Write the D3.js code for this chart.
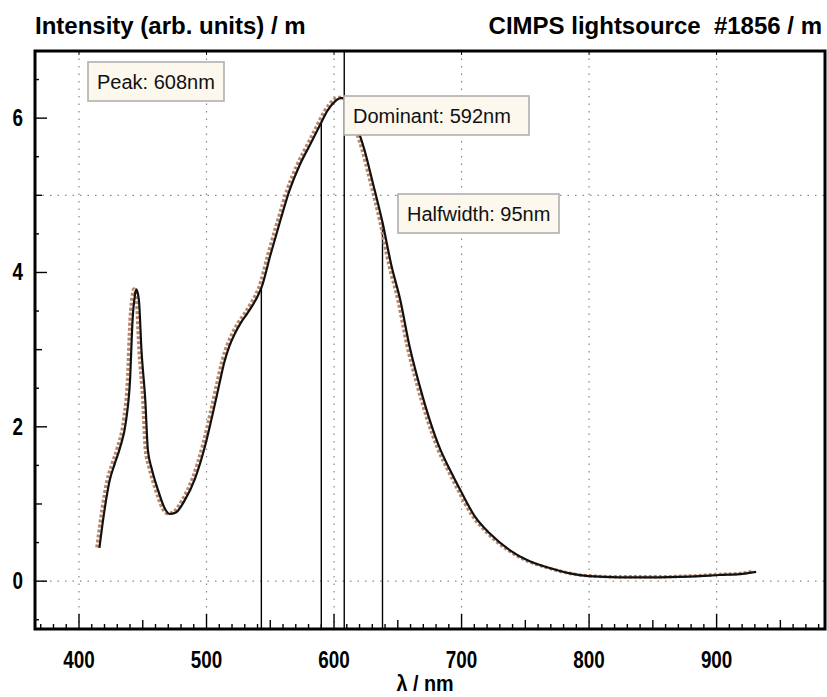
<!DOCTYPE html>
<html>
<head>
<meta charset="utf-8">
<script src="https://cdn.jsdelivr.net/npm/d3@7"></script>
<style>
  body { margin: 0; background: #fff; }
  text { font-family: "Liberation Sans", Arial, sans-serif; }
</style>
</head>
<body>
<svg id="chart"></svg>
<script>
// spectrum
const wavelength = [416, 420, 424, 428, 432, 437, 440, 442, 444, 445, 447, 449, 452, 454, 457, 462, 467, 471, 476, 483,
  491, 499, 505, 510, 514, 518, 522, 527, 532, 537, 540, 543, 550, 558, 565, 573, 581, 589, 595, 601,
  605, 608, 612, 619, 624, 630, 638, 645, 652, 659, 667, 675, 683, 691, 699, 710, 722, 738, 753, 769,
  785, 800, 824, 855, 887, 902, 918, 931];
const intensity = [0.43, 0.92, 1.3, 1.52, 1.72, 2.09, 2.6, 3.38, 3.72, 3.78, 3.64, 2.99, 2.34, 1.7, 1.46, 1.18, 0.95, 0.87, 0.89, 1.05,
  1.33, 1.76, 2.18, 2.55, 2.84, 3.05, 3.2, 3.35, 3.47, 3.6, 3.69, 3.8, 4.22, 4.68, 5.06, 5.39, 5.65, 5.91, 6.1, 6.22,
  6.26, 6.26, 6.19, 5.84, 5.58, 5.19, 4.65, 4.09, 3.64, 3.06, 2.54, 2.09, 1.72, 1.44, 1.18, 0.85, 0.62, 0.4, 0.26, 0.17,
  0.1, 0.065, 0.05, 0.05, 0.065, 0.08, 0.09, 0.12];

const xTickValues = [400, 500, 600, 700, 800, 900];
const yTickValues = [0, 2, 4, 6];
const peakNm = 608;
const halfwidthNm = [543, 638];
const dominantLineNm = 590;
const boxLabels = ["Peak: 608nm", "Dominant: 592nm", "Halfwidth: 95nm"];

const width = 827;
const height = 697;
const plot = { left: 35, top: 51, right: 825, bottom: 629 };

const svg = d3.select("#chart")
    .attr("width", width)
    .attr("height", height);

const xScale = d3.scaleLinear().domain([365.5, 985]).range([plot.left, plot.right]);
const yScale = d3.scaleLinear().domain([-0.62, 6.87]).range([plot.bottom, plot.top]);

const data = wavelength.map((w, i) => ({ w: w, v: intensity[i] }));

// grid, dotted
svg.append("g")
    .selectAll("line")
    .data(xTickValues)
    .join("line")
    .attr("x1", d => xScale(d)).attr("x2", d => xScale(d))
    .attr("y1", plot.top).attr("y2", plot.bottom)
    .attr("stroke", "#888")
    .attr("stroke-width", 1.2)
    .attr("stroke-dasharray", "1.5,6");

svg.append("g")
    .selectAll("line")
    .data([0, 5])
    .join("line")
    .attr("x1", plot.left).attr("x2", plot.right)
    .attr("y1", d => yScale(d)).attr("y2", d => yScale(d))
    .attr("stroke", "#888")
    .attr("stroke-width", 1.2)
    .attr("stroke-dasharray", "1.5,6");

// x ticks along the bottom, pointing up
const xMinor = d3.range(370, 990, 10);
svg.append("g")
    .selectAll("line")
    .data(xMinor)
    .join("line")
    .attr("x1", d => xScale(d)).attr("x2", d => xScale(d))
    .attr("y1", plot.bottom)
    .attr("y2", d => plot.bottom - (d % 100 === 0 ? 15 : d % 50 === 0 ? 9 : 5))
    .attr("stroke", "#000")
    .attr("stroke-width", 1.4);

svg.append("g")
    .selectAll("line")
    .data(xTickValues)
    .join("line")
    .attr("x1", d => xScale(d)).attr("x2", d => xScale(d))
    .attr("y1", plot.top).attr("y2", plot.top + 4)
    .attr("stroke", "#000");

// y ticks on the left, pointing right
const yMinor = d3.range(-0.5, 7, 0.5);
svg.append("g")
    .selectAll("line")
    .data(yMinor)
    .join("line")
    .attr("x1", plot.left)
    .attr("x2", d => plot.left + (d % 2 === 0 ? 12 : Number.isInteger(d) ? 7 : 4))
    .attr("y1", d => yScale(d)).attr("y2", d => yScale(d))
    .attr("stroke", "#000")
    .attr("stroke-width", 1.4);

// tick labels (narrow bold look)
svg.append("g")
    .selectAll("text")
    .data(xTickValues)
    .join("text")
    .attr("transform", d => `translate(${xScale(d)},668) scale(0.82,1)`)
    .attr("text-anchor", "middle")
    .attr("font-size", 23)
    .attr("font-weight", "bold")
    .text(d => d);

svg.append("g")
    .selectAll("text")
    .data(yTickValues)
    .join("text")
    .attr("transform", d => `translate(23,${yScale(d) + 8}) scale(0.82,1)`)
    .attr("text-anchor", "end")
    .attr("font-size", 23)
    .attr("font-weight", "bold")
    .text(d => d);

svg.append("text")
    .attr("transform", "translate(425,691) scale(0.9,1)")
    .attr("text-anchor", "middle")
    .attr("font-size", 22)
    .attr("font-weight", "bold")
    .text("λ / nm");

svg.append("text")
    .attr("x", 35)
    .attr("y", 34)
    .attr("font-size", 24)
    .attr("font-weight", "bold")
    .text("Intensity (arb. units) / m");

svg.append("text")
    .attr("x", 822)
    .attr("y", 34)
    .attr("text-anchor", "end")
    .attr("font-size", 24)
    .attr("font-weight", "bold")
    .attr("xml:space", "preserve")
    .text("CIMPS lightsource  #1856 / m");

// marker lines
const valueAt = w => {
    const i = d3.bisector(d => d.w).left(data, w);
    const a = data[i - 1], b = data[i];
    return a.v + (b.v - a.v) * (w - a.w) / (b.w - a.w);
};

svg.append("g")
    .selectAll("line")
    .data([halfwidthNm[0], dominantLineNm, halfwidthNm[1]])
    .join("line")
    .attr("x1", d => xScale(d)).attr("x2", d => xScale(d))
    .attr("y1", plot.bottom)
    .attr("y2", d => yScale(valueAt(d)))
    .attr("stroke", "#000")
    .attr("stroke-width", 1.4);

svg.append("line")
    .attr("x1", xScale(peakNm)).attr("x2", xScale(peakNm))
    .attr("y1", plot.bottom).attr("y2", plot.top)
    .attr("stroke", "#000")
    .attr("stroke-width", 1.4);

// spectrum: measured points (brownish) and fitted line
const line = d3.line()
    .x(d => xScale(d.w))
    .y(d => yScale(d.v))
    .curve(d3.curveMonotoneX);

svg.append("path")
    .datum(data)
    .attr("d", line)
    .attr("transform", "translate(-2.5,-0.5)")
    .attr("fill", "none")
    .attr("stroke", "#b8876a")
    .attr("stroke-width", 3.4)
    .attr("stroke-dasharray", "3,2");

svg.append("path")
    .datum(data)
    .attr("d", line)
    .attr("fill", "none")
    .attr("stroke", "#111")
    .attr("stroke-width", 2.2);

// annotation boxes
const boxes = [
    { x: 88, y: 62, w: 136, h: 39 },
    { x: 344, y: 96, w: 185, h: 39 },
    { x: 398, y: 194, w: 161, h: 39 }
];

const boxG = svg.append("g")
    .selectAll("g")
    .data(boxes)
    .join("g")
    .attr("transform", d => `translate(${d.x},${d.y})`);

boxG.append("rect")
    .attr("width", d => d.w)
    .attr("height", d => d.h)
    .attr("fill", "#fcf8ee")
    .attr("stroke", "#b0b0b0")
    .attr("stroke-width", 1.6);

boxG.append("text")
    .attr("x", 9)
    .attr("y", 27)
    .attr("font-size", 20)
    .attr("fill", "#111")
    .text((d, i) => boxLabels[i]);

// frame
svg.append("rect")
    .attr("x", plot.left)
    .attr("y", plot.top)
    .attr("width", plot.right - plot.left)
    .attr("height", plot.bottom - plot.top)
    .attr("fill", "none")
    .attr("stroke", "#000")
    .attr("stroke-width", 3);
</script>
</body>
</html>
